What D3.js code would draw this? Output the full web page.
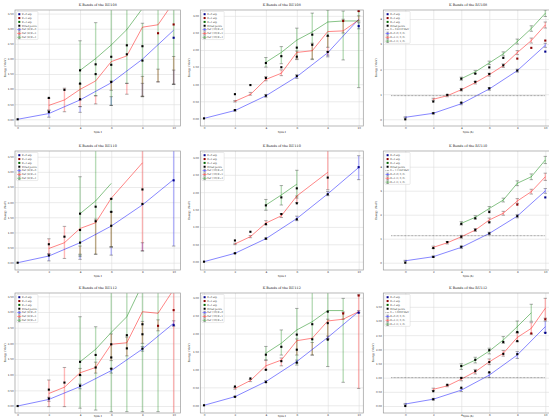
<!DOCTYPE html>
<html>
<head>
<meta charset="utf-8">
<script src="https://cdn.jsdelivr.net/npm/d3@7"></script>
<style>
  html, body { margin: 0; padding: 0; background: #fff; overflow: hidden; }
  svg { display: block; }
  text { font-family: "DejaVu Serif", "Liberation Serif", serif; fill: #222; }
</style>
</head>
<body>
<svg id="chart" width="549" height="418"></svg>
<script>
// ---- data -------------------------------------------------------------
const xTicks = [0, 2, 4, 6, 8, 10];
const spinsK0 = [0, 2, 4, 6, 8, 10];
const spinsK2 = [2, 3, 4, 5, 6, 7, 8, 9, 10];
const spinsK4 = [4, 5, 6, 7, 8, 9, 10];

const nuclei = ['RU108', 'RU110', 'RU112'];

// experimental levels (MeV), one row per nucleus
const expK0 = [
  [0, 0.242, 0.665, 1.236, 1.944, 2.70],
  [0, 0.241, 0.664, 1.22, 1.94, 2.72],
  [0, 0.237, 0.645, 1.19, 1.83, 2.58]
];
const expK2Spins = [[2, 3, 4, 5, 6, 7, 8, 9, 10], [2, 3, 4, 5, 6, 8], [2, 3, 4, 5, 6, 7, 8, 9, 10]];
const expK2 = [
  [0.708, 0.975, 1.183, 1.496, 1.805, 2.153, 2.42, 2.85, 3.14],
  [0.61, 0.86, 1.08, 1.37, 1.68, 2.42],
  [0.523, 0.748, 0.99, 1.23, 1.55, 1.84, 2.29, 2.56, 3.06]
];
const expK4Spins = [[4, 5, 6, 7], [4, 5, 6], [4, 5, 6, 7, 8]];
const expK4 = [
  [1.62, 1.82, 2.07, 2.45],
  [1.62, 1.85, 2.11],
  [1.41, 1.63, 1.97, 2.26, 2.61]
];

// RU108
const p11K0 = [0, 0.19, 0.64, 1.21, 1.99, 2.95];
const p11K0Bars = [null, [0.07, 0.31], [0.23, 0.42], [0.46, 0.75], [0.77, 1.19], [1.16, 1.63]];
const p11K2 = [0.46, 0.64, 0.99, 1.27, 1.91, 2.10, 3.05, 3.13, 3.88];
const p11K2Bars = [[0.29, 0.70], [0.25, 1.03], [0.42, 1.17], [0.51, 0.78], [0.96, 1.27], [0.83, 1.19], [0.75, 1.42], [1.23, 1.66], [1.16, 2.08]];
const p11K4 = [1.62, 2.01, 2.46, 2.97, 3.67, 4.2, 4.8];
const p11K4Bars = [[0.64, 2.60], [0.78, 3.20], [0.46, 3.9], [1.19, 3.9], [0.75, 3.18], [1.25, 3.9], [1.16, 3.9]];

const p12K0 = [0, 0.23, 0.66, 1.22, 1.92, 2.90];
const p12K0Bars = [null, [0.21, 0.25], [0.62, 0.70], [1.17, 1.28], [1.80, 1.95], [2.62, 2.80]];
const p12K2 = [0.50, 0.70, 1.14, 1.32, 1.93, 1.98, 2.54, 2.56, 2.88];
const p12K2Bars = [[0.48, 0.52], [0.68, 0.76], [1.10, 1.22], [1.25, 1.42], [1.72, 1.97], [1.74, 2.20], [1.85, 2.40], [2.50, 2.90], [2.85, 3.00]];
const p12K4 = [1.64, 1.93, 2.29, 2.53, 2.82, 2.85, 2.85];
const p12K4Bars = [[1.50, 1.78], [1.60, 2.10], [1.74, 2.64], [1.72, 3.08], [2.08, 3.17], [1.71, 3.14], [0.90, 3.14]];

const p13K0 = [0.08, 0.24, 0.62, 1.21, 1.94, 2.95];
const p13K0Err = [0.02, 0.03, 0.04, 0.05, 0.06, 0.08];
const p13K2 = [0.80, 0.94, 1.18, 1.46, 1.78, 2.14, 2.66, 3.14, 3.76];
const p13K2Err = [0.04, 0.04, 0.05, 0.05, 0.06, 0.07, 0.08, 0.1, 0.12];
const p13K4 = [1.62, 1.89, 2.25, 2.61, 3.10, 3.62, 4.23];
const p13K4Err = [0.06, 0.06, 0.07, 0.08, 0.1, 0.11, 0.13];
const p13Delta = 0.944;

// RU110
const p21K0 = [0, 0.22, 0.66, 1.21, 1.91, 2.75];
const p21K0Bars = [null, [0.06, 0.30], [0.11, 0.25], [0.25, 0.50], [0.39, 0.66], [0.55, 3.8]];
const p21K2Spins = [2, 3, 4, 5, 6, 8];
const p21K2 = [0.47, 0.66, 1.13, 1.32, 2.13, 3.30];
const p21K2Bars = [[0.28, 0.79], [0.14, 1.20], [0.28, 0.55], [0.28, 1.44], [0.53, 1.68], [0.39, 3.8]];
const p21K4Spins = [4, 5, 6];
const p21K4 = [1.62, 2.04, 2.62];
const p21K4Bars = [[0.20, 2.84], [0.28, 3.8], [0.53, 2.11]];

const p22K0 = [0, 0.24, 0.66, 1.24, 1.95, 2.71];
const p22K0Bars = [null, [0.23, 0.25], [0.64, 0.68], [1.18, 1.31], [1.90, 2.02], [2.36, 3.05]];
const p22K2 = [0.51, 0.72, 1.11, 1.32, 1.89, 2.57];
const p22K2Bars = [[0.49, 0.53], [0.69, 0.75], [1.06, 1.18], [1.27, 1.38], [1.70, 1.89], [2.07, 3.6]];
const p22K4 = [1.63, 1.92, 2.23];
const p22K4Bars = [[1.48, 1.79], [1.63, 2.19], [1.83, 2.63]];

const p23K0 = [0.08, 0.25, 0.64, 1.22, 1.94, 2.99];
const p23K0Err = [0.02, 0.03, 0.05, 0.05, 0.07, 0.1];
const p23K2 = [0.64, 0.83, 1.08, 1.36, 1.78, 2.06, 2.57, 2.96, 3.58];
const p23K2Err = [0.05, 0.05, 0.06, 0.06, 0.08, 0.08, 0.1, 0.1, 0.15];
const p23K4 = [1.64, 1.89, 2.26, 2.61, 3.31, 3.58, 4.28];
const p23K4Err = [0.07, 0.07, 0.08, 0.08, 0.1, 0.12, 0.15];
const p23Delta = 1.125;

// RU112
const p31K0 = [0, 0.21, 0.62, 1.13, 1.82, 2.64];
const p31K0Bars = [null, [0.15, 0.28], [0.55, 0.70], [1.05, 1.20], [1.75, 1.90], [2.55, 2.72]];
const p31K2 = [0.40, 0.60, 1.06, 1.23, 1.97, 2.02, 3.01, 2.96, 3.72];
const p31K2Bars = [[-0.02, 0.83], [-0.02, 1.23], [0.97, 1.20], [1.05, 1.40], [1.45, 2.30], [1.60, 2.20], [2.00, 2.70], [2.40, 2.75], [-0.30, 4.0]];
const p31K4Spins = [4, 5, 6, 7, 8, 9];
const p31K4 = [1.41, 1.81, 2.35, 2.85, 3.89, 4.5];
const p31K4Bars = [[-0.07, 2.85], [-0.13, 2.53], [-0.18, 4.0], [-0.18, 4.0], [-0.18, 4.0], [-0.18, 4.0]];

const p32K0 = [0, 0.24, 0.66, 1.22, 1.89, 2.61];
const p32K0Bars = [null, [0.23, 0.25], [0.64, 0.69], [1.18, 1.26], [1.85, 1.93], [2.58, 2.64]];
const p32K2 = [0.47, 0.69, 1.10, 1.26, 1.80, 1.87, 2.35, 2.40, 2.61];
const p32K2Bars = [[0.45, 0.50], [0.66, 0.72], [0.99, 1.26], [1.10, 1.32], [1.40, 1.85], [1.40, 1.75], [1.85, 2.40], [2.40, 2.60], [0.47, 3.08]];
const p32K4Spins = [4, 5, 6, 7, 8, 9];
const p32K4 = [1.45, 1.73, 2.10, 2.33, 2.64, 2.64];
const p32K4Bars = [[1.26, 1.64], [1.40, 2.10], [1.12, 2.70], [1.40, 3.6], [1.08, 3.6], [0.64, 2.98]];

const p33K0 = [0.07, 0.24, 0.56, 1.09, 1.80, 2.80];
const p33K0Err = [0.02, 0.03, 0.05, 0.08, 0.12, 0.2];
const p33K2 = [0.59, 0.71, 0.95, 1.21, 1.56, 1.86, 2.42, 2.74, 3.45];
const p33K2Err = [0.04, 0.03, 0.06, 0.08, 0.1, 0.1, 0.15, 0.2, 0.35];
const p33K4Spins = [4, 5, 6, 7, 8, 9];
const p33K4 = [1.39, 1.62, 1.94, 2.33, 2.80, 3.29];
const p33K4Err = [0.1, 0.1, 0.1, 0.12, 0.2, 0.3];
const p33Delta = 1.0;

const refLabels = ['Ref. [9]', 'Ref. [10]'];
const modelLabels = ['K=0 (0, 0, 0)', 'K=2 (2, 0, 0)', 'K=4 (2, 2, 0)'];

// ---- layout -----------------------------------------------------------
const colBoxes = [[15, 180.5], [200.3, 363.3], [383.3, 553]];
const rowBoxes = [[10, 126], [151, 270], [293, 413]];
const xDomains = [[-0.17, 10.44], [-0.24, 10.30], [-1.57, 10.55]];
const yDomains = [
  [[-0.222, 3.619], [-0.223, 3.171], [-0.267, 4.359]],
  [[-0.241, 3.690], [-0.240, 3.185], [-0.304, 4.654]],
  [[-0.223, 3.607], [-0.215, 3.130], [-0.247, 3.988]]
];
const bandColors = ['blue', 'red', 'green'];
const expColors = ['darkblue', 'darkred', 'darkgreen'];

const errToBars = (vals, err) => vals.map((v, i) => [v - err[i], v + err[i]]);

function band(spins, vals, bars) {
  return spins.map((s, i) => ({s: s, v: vals[i], bar: bars[i]}));
}

const panels = [
  {r: 0, c: 0, bands: [band(spinsK0, p11K0, p11K0Bars), band(spinsK2, p11K2, p11K2Bars), band(spinsK4, p11K4, p11K4Bars)], fitK2: 8},
  {r: 0, c: 1, bands: [band(spinsK0, p12K0, p12K0Bars), band(spinsK2, p12K2, p12K2Bars), band(spinsK4, p12K4, p12K4Bars)], fitK2: 8},
  {r: 0, c: 2, bands: [band(spinsK0, p13K0, errToBars(p13K0, p13K0Err)), band(spinsK2, p13K2, errToBars(p13K2, p13K2Err)), band(spinsK4, p13K4, errToBars(p13K4, p13K4Err))], fitK2: 7, delta: p13Delta, deltaLabel: 'δ = 0.9440 MeV'},
  {r: 1, c: 0, bands: [band(spinsK0, p21K0, p21K0Bars), band(p21K2Spins, p21K2, p21K2Bars), band(p21K4Spins, p21K4, p21K4Bars)], fitK2: 8},
  {r: 1, c: 1, bands: [band(spinsK0, p22K0, p22K0Bars), band(p21K2Spins, p22K2, p22K2Bars), band(p21K4Spins, p22K4, p22K4Bars)], fitK2: 8},
  {r: 1, c: 2, bands: [band(spinsK0, p23K0, errToBars(p23K0, p23K0Err)), band(spinsK2, p23K2, errToBars(p23K2, p23K2Err)), band(spinsK4, p23K4, errToBars(p23K4, p23K4Err))], fitK2: 7, delta: p23Delta, deltaLabel: 'δ = 1.1250 MeV'},
  {r: 2, c: 0, bands: [band(spinsK0, p31K0, p31K0Bars), band(spinsK2, p31K2, p31K2Bars), band(p31K4Spins, p31K4, p31K4Bars)], fitK2: 8},
  {r: 2, c: 1, bands: [band(spinsK0, p32K0, p32K0Bars), band(spinsK2, p32K2, p32K2Bars), band(p32K4Spins, p32K4, p32K4Bars)], fitK2: 8},
  {r: 2, c: 2, bands: [band(spinsK0, p33K0, errToBars(p33K0, p33K0Err)), band(spinsK2, p33K2, errToBars(p33K2, p33K2Err)), band(p33K4Spins, p33K4, errToBars(p33K4, p33K4Err))], fitK2: 8, delta: p33Delta, deltaLabel: 'δ = 1.0000 MeV'}
];

const svg = d3.select('#chart');

function styleAxis(ax, fs) {
  ax.select('.domain').remove();
  ax.selectAll('.tick line').attr('stroke', '#dedede').attr('stroke-width', 0.6);
  ax.selectAll('.tick text').attr('font-size', fs).attr('font-family', null).attr('fill', '#222');
  ax.attr('font-family', null).attr('font-size', null);
}

function drawPanel(p) {
  const [x0, x1] = colBoxes[p.c];
  const [y0, y1] = rowBoxes[p.r];
  const yDom = yDomains[p.r][p.c];
  const x = d3.scaleLinear().domain(xDomains[p.c]).range([x0, x1]);
  const y = d3.scaleLinear().domain(yDom).range([y1, y0]);
  const g = svg.append('g');
  const clipId = `clip${p.r}${p.c}`;
  svg.append('clipPath').attr('id', clipId).append('rect')
    .attr('x', x0).attr('y', y0).attr('width', x1 - x0).attr('height', y1 - y0);

  // grid + tick labels
  const yStep = (p.c === 2 && p.r < 2) ? 1 : 0.5;
  const yFmt = (p.c === 2 && p.r < 2) ? d3.format('d') : d3.format('.2f');
  const yTicks = d3.range(0, yDom[1] + 1e-9, yStep);
  const xAx = g.append('g').attr('transform', `translate(0,${y1})`)
    .call(d3.axisBottom(x).tickValues(xTicks).tickSize(-(y1 - y0)).tickPadding(1.3).tickFormat(d3.format('d')));
  styleAxis(xAx, 2.7);
  const yAx = g.append('g').attr('transform', `translate(${x0},0)`)
    .call(d3.axisLeft(y).tickValues(yTicks).tickSize(-(x1 - x0)).tickPadding(1.4).tickFormat(yFmt));
  styleAxis(yAx, 2.7);

  const plot = g.append('g').attr('clip-path', `url(#${clipId})`);

  // error bars
  p.bands.forEach((b, k) => {
    const withBar = b.filter(d => d.bar);
    plot.append('g').selectAll('line').data(withBar).join('line')
      .attr('x1', d => x(d.s)).attr('x2', d => x(d.s))
      .attr('y1', d => y(d.bar[0])).attr('y2', d => y(d.bar[1]))
      .attr('stroke', bandColors[k]).attr('stroke-opacity', 0.28).attr('stroke-width', 1.4);
    const caps = withBar.flatMap(d => [{s: d.s, v: d.bar[0]}, {s: d.s, v: d.bar[1]}]);
    plot.append('g').selectAll('line').data(caps).join('line')
      .attr('x1', d => x(d.s) - 1.7).attr('x2', d => x(d.s) + 1.7)
      .attr('y1', d => y(d.v)).attr('y2', d => y(d.v))
      .attr('stroke', '#333').attr('stroke-opacity', 0.8).attr('stroke-width', 0.5);
  });

  // model lines
  const line = d3.line().x(d => x(d.s)).y(d => y(d.v));
  p.bands.forEach((b, k) => {
    plot.append('path').datum(b).attr('d', line)
      .attr('fill', 'none').attr('stroke', bandColors[k])
      .attr('stroke-opacity', 0.6).attr('stroke-width', 0.8);
  });

  if (p.delta !== undefined) {
    plot.append('line')
      .attr('x1', x(-1)).attr('x2', x(10)).attr('y1', y(p.delta)).attr('y2', y(p.delta))
      .attr('stroke', '#333').attr('stroke-width', 0.6).attr('stroke-dasharray', '0.7,0.7');
  }

  // experimental and fitted points
  const exp = [
    spinsK0.map((s, i) => ({s: s, v: expK0[p.r][i], k: 0, fit: s <= 8})),
    expK2Spins[p.r].map((s, i) => ({s: s, v: expK2[p.r][i], k: 1, fit: s <= p.fitK2})),
    expK4Spins[p.r].map((s, i) => ({s: s, v: expK4[p.r][i], k: 2, fit: true}))
  ].flat();
  const sq = 2.1;
  plot.append('g').selectAll('rect').data(exp).join('rect')
    .attr('x', d => x(d.s) - sq / 2).attr('y', d => y(d.v) - sq / 2)
    .attr('width', sq).attr('height', sq)
    .attr('fill', d => d.fit ? 'black' : expColors[d.k]);

  // frame
  g.append('rect').attr('x', x0).attr('y', y0).attr('width', x1 - x0).attr('height', y1 - y0)
    .attr('fill', 'none').attr('stroke', '#9a9a9a').attr('stroke-width', 0.7);

  // legend
  const entries = [
    {type: 'sq', color: expColors[0], label: 'K=0 exp'},
    {type: 'sq', color: expColors[1], label: 'K=2 exp'},
    {type: 'sq', color: expColors[2], label: 'K=4 exp'},
    {type: 'sq', color: 'black', label: 'Fitted points'}
  ];
  if (p.delta !== undefined) entries.push({type: 'dot', label: p.deltaLabel});
  [0, 1, 2].forEach(k => {
    const label = p.c === 2 ? modelLabels[k] : `${refLabels[p.c]} K=${2 * k}`;
    entries.push({type: 'eb', color: bandColors[k], label: label});
  });
  const lg = g.append('g').attr('transform', `translate(${x0 + 1.5},${y0 + 1.5})`);
  const frame = lg.append('rect').attr('fill', 'white').attr('fill-opacity', 0.85)
    .attr('stroke', '#cccccc').attr('stroke-width', 0.4).attr('rx', 0.8);
  let maxW = 0;
  entries.forEach((e, i) => {
    const cy = 2.7 + i * 3.85;
    if (e.type === 'sq') {
      lg.append('rect').attr('x', 2.8 - 1).attr('y', cy - 1).attr('width', 2).attr('height', 2).attr('fill', e.color);
    } else if (e.type === 'dot') {
      lg.append('line').attr('x1', 0.8).attr('x2', 4.8).attr('y1', cy).attr('y2', cy)
        .attr('stroke', '#333').attr('stroke-width', 0.6).attr('stroke-dasharray', '0.7,0.7');
    } else {
      lg.append('line').attr('x1', 0.8).attr('x2', 4.8).attr('y1', cy).attr('y2', cy)
        .attr('stroke', e.color).attr('stroke-opacity', 0.6).attr('stroke-width', 0.8);
      lg.append('line').attr('x1', 2.8).attr('x2', 2.8).attr('y1', cy - 1.3).attr('y2', cy + 1.3)
        .attr('stroke', e.color).attr('stroke-opacity', 0.3).attr('stroke-width', 1.4);
      [cy - 1.3, cy + 1.3].forEach(cv => {
        lg.append('line').attr('x1', 1.6).attr('x2', 4).attr('y1', cv).attr('y2', cv)
          .attr('stroke', '#333').attr('stroke-width', 0.45);
      });
    }
    const t = lg.append('text').attr('x', 5.5).attr('y', cy).attr('dy', '0.35em')
      .attr('font-size', 2.25).text(e.label);
    maxW = Math.max(maxW, t.node().getComputedTextLength());
  });
  frame.attr('width', 5.5 + maxW + 1.3).attr('height', entries.length * 3.85 + 1.1);

  // titles and labels
  g.append('text').attr('x', (x0 + x1) / 2).attr('y', y0 - 4.3).attr('text-anchor', 'middle')
    .attr('font-size', 3.4).text(`K Bands of the ${nuclei[p.r]}`);
  // keep the bottom row's axis label inside the 418 px page
  const xlabY = Math.min(y1 + 7, 417);
  g.append('text').attr('x', (x0 + x1) / 2).attr('y', xlabY).attr('text-anchor', 'middle')
    .attr('font-size', 2.7).text(p.c === 2 ? 'Spin (ħ)' : 'Spin I');
  const yOff = p.c === 2 ? (p.r < 2 ? 6 : 9) : (p.c === 0 ? 9.3 : 10.6);
  g.append('text').attr('transform', `translate(${x0 - yOff},${(y0 + y1) / 2}) rotate(-90)`)
    .attr('text-anchor', 'middle').attr('font-size', 2.7).text('Energy (MeV)');
}

panels.forEach(drawPanel);
</script>
</body>
</html>
